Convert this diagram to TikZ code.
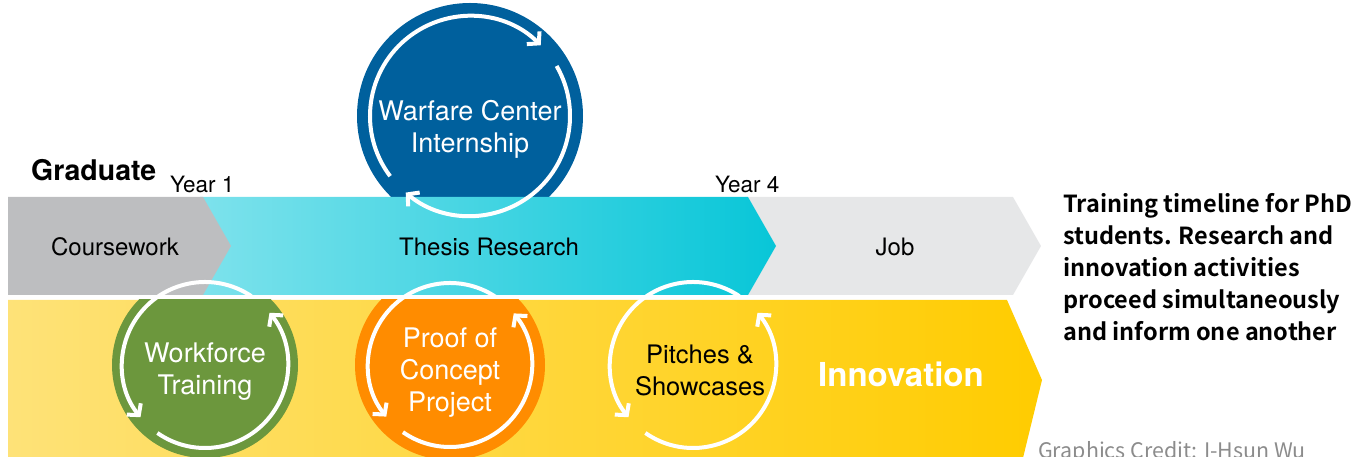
\documentclass[tikz,border=0pt]{standalone}
\usepackage{fontspec}
\setmainfont{TeX Gyre Heros}
\newfontfamily\capfont{Noto Sans CJK SC Bold}
\newfontfamily\credfont{Noto Sans CJK SC}
\usetikzlibrary{arrows.meta}
\definecolor{grayC}{RGB}{189,190,192}
\definecolor{jobgray}{RGB}{230,231,232}
\definecolor{cyanL}{RGB}{125,226,236}
\definecolor{cyanR}{RGB}{8,198,216}
\definecolor{yelL}{RGB}{254,226,120}
\definecolor{yelR}{RGB}{255,204,0}
\definecolor{wcblue}{RGB}{0,96,157}
\definecolor{wfgreen}{RGB}{108,151,61}
\definecolor{pcorange}{RGB}{255,140,0}
\definecolor{credgray}{RGB}{140,140,140}
\begin{document}
\begin{tikzpicture}[x=1pt,y=1pt,
  cyc/.style={white, line width=4pt, -{Straight Barb[length=8pt,width=18pt]}},
  lab/.style={inner sep=0pt, font=\fontsize{24}{28}\selectfont},
  circlab/.style={inner sep=0pt, align=center, font=\fontsize{27}{32}\selectfont}]
\useasboundingbox (0,0) rectangle (1366,457);
% top circle
\fill[wcblue] (470,341) circle (113);
% top band
\fill[jobgray] (745,260) -- (1013,260) -- (1041,211) -- (1013,162) -- (745,162) -- cycle;
\shade[left color=cyanL, right color=cyanR] (200,260) -- (748,260) -- (776,211) -- (748,162) -- (200,162) -- cycle;
\fill[grayC] (8,260) -- (203,260) -- (231,211) -- (203,162) -- (8,162) -- cycle;
% innovation band
\shade[left color=yelL, right color=yelR] (8,157) -- (1007,157) -- (1042,77) -- (1022,-5) -- (8,-5) -- cycle;
\begin{scope}
  \clip (0,-10) rectangle (1366,157);
  \fill[wfgreen] (205,92) circle (93);
  \fill[pcorange] (450,92) circle (95);
\end{scope}
% cycle arrows
\draw[cyc] (470,341) ++(217:100) arc[start angle=217, end angle=45, radius=100];
\draw[cyc] (470,341) ++(30:100) arc[start angle=30, end angle=-130, radius=100];
\foreach \cx/\r in {205/83, 450/82, 693/83}{
  \draw[cyc] (\cx,92) ++(56:\r) arc[start angle=56, end angle=219, radius=\r];
  \draw[cyc] (\cx,92) ++(235:\r) arc[start angle=235, end angle=399, radius=\r];
}
% texts
\node[lab, anchor=base west, font=\bfseries\fontsize{28.5}{32}\selectfont] (grad) at (31,276) {Graduate};
\node[lab, anchor=base west, font=\fontsize{22.5}{26}\selectfont] (y1) at (170,264) {Year 1};
\node[lab, anchor=base west, font=\fontsize{22.5}{26}\selectfont] (y4) at (715,264) {Year 4};
\node[lab, anchor=base] (cw) at (115,201) {Coursework};
\node[lab, anchor=base] (tr) at (489,201) {Thesis Research};
\node[lab, anchor=base] (job) at (895,201) {Job};
\node[circlab, white] (wci) at (470,328) {Warfare Center\\Internship};
\node[circlab, white] (wt) at (205,85) {Workforce\\Training};
\node[circlab, white] (poc) at (450,84) {Proof of\\Concept\\Project};
\node[circlab, black, font=\fontsize{25.5}{32}\selectfont] (ps) at (700,87) {Pitches \&\\Showcases};
\node[lab, anchor=base, white, font=\bfseries\fontsize{33}{38}\selectfont] (inn) at (901,70) {Innovation};
\node[inner sep=0pt, anchor=west, align=left, font=\capfont\fontsize{23.5}{32}\selectfont] (cap) at (1063,190)
  {Training timeline for PhD\\students. Research and\\innovation activities\\proceed simultaneously\\and inform one another};
\node[inner sep=0pt, anchor=base west, text=credgray, font=\credfont\fontsize{21.4}{26}\selectfont] (cred) at (1038,-2) {Graphics Credit: I-Hsun Wu};
\end{tikzpicture}
\end{document}
